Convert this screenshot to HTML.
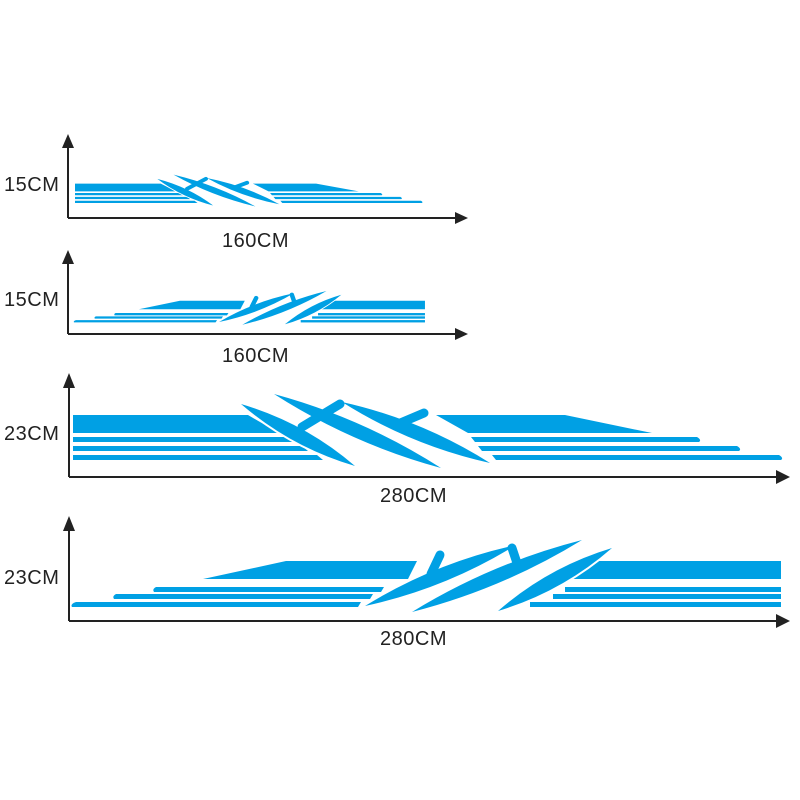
<!DOCTYPE html>
<html><head><style>body{margin:0;background:#fff}svg{display:block}</style></head><body>
<svg width="800" height="800" viewBox="0 0 800 800" xmlns="http://www.w3.org/2000/svg">
<defs>
<g id="p3" fill="#00a0e4" stroke="none">
  <polygon points="73,415 248,415 279,433 73,433"/>
  <polygon points="436,415 565,415 652,433 468,433"/>
  <polygon points="73,437 290,437 296,442 73,442"/><polygon points="73,446 302,446 308,451 73,451"/><polygon points="73,455 317,455 323,460 73,460"/>
  <path d="M471,437 H697 Q702,440 699,442 H475 Z"/><path d="M478,446 H737 Q742,449 739,451 H482 Z"/><path d="M492,455 H779 Q784,458 781,460 H496 Z"/>
  <g stroke="#fff" stroke-width="4" paint-order="stroke">
    <path d="M241,404 Q291.3,447.3 355,466 Q304.7,422.7 241,404 Z"/>
    <path d="M274,394 Q351.8,443.8 441,468 Q363.2,418.2 274,394 Z"/>
    <path d="M342,402 Q410.7,445.4 490,463 Q421.3,419.6 342,402 Z"/>
  </g>
  <g stroke="#00a0e4" stroke-width="9" stroke-linecap="round" fill="none">
    <path d="M302,427 L340,404"/>
    <path d="M398,424 L424,413"/>
  </g>
</g>
<g id="p4" fill="#00a0e4" stroke="none">
  <polygon points="577,561 781,561 781,579 565,579"/>
  <polygon points="286,561 417,561 408,579 203,579"/>
  <path d="M156,587 H384 L381,592 H154 Q152,589 156,587 Z"/><path d="M116,594 H373 L370,599 H114 Q112,596 116,594 Z"/><path d="M76,602 H361 L358,607 H72 Q70,604 76,602 Z"/>
  <rect x="565" y="587" width="216" height="5"/><rect x="553" y="594" width="228" height="5"/><rect x="530" y="602" width="251" height="5"/>
  <g stroke="#fff" stroke-width="4" paint-order="stroke">
    <path d="M365,606 Q445.7,588.5 516,545 Q435.3,562.5 365,606 Z"/>
    <path d="M412,612 Q502.4,588.9 582,540 Q491.6,563.1 412,612 Z"/>
    <path d="M498,611 Q561.8,591.8 612,548 Q548.2,567.2 498,611 Z"/>
  </g>
  <g stroke="#00a0e4" stroke-width="9" stroke-linecap="round" fill="none">
    <path d="M431,574 L440,555"/>
    <path d="M518,566 L512,548"/>
  </g>
</g>
</defs>
<g font-family="Liberation Sans, sans-serif" font-size="20" fill="#222" letter-spacing="0.5">
<g stroke="#222" stroke-width="2"><line x1="68" y1="145" x2="68" y2="218"/><line x1="68" y1="218" x2="458" y2="218"/></g>
<polygon points="62,148 74,148 68,134"/><polygon points="455,212 455,224 468,218"/>
<use href="#p3" transform="translate(75,175) scale(0.49,0.43) translate(-73,-395)"/>
<text x="4" y="191">15CM</text><text x="222" y="247">160CM</text>
<g stroke="#222" stroke-width="2"><line x1="68" y1="260" x2="68" y2="334"/><line x1="68" y1="334" x2="458" y2="334"/></g>
<polygon points="62,264 74,264 68,250"/><polygon points="455,328 455,340 468,334"/>
<use href="#p4" transform="translate(75,290) scale(0.495,0.47) translate(-74,-538)"/>
<text x="4" y="306">15CM</text><text x="222" y="362">160CM</text>
<g stroke="#222" stroke-width="2"><line x1="69" y1="385" x2="69" y2="477"/><line x1="69" y1="477" x2="778" y2="477"/></g>
<polygon points="63,388 75,388 69,373"/><polygon points="776,470 776,484 790,477"/>
<use href="#p3"/>
<text x="4" y="440">23CM</text><text x="380" y="502">280CM</text>
<g stroke="#222" stroke-width="2"><line x1="69" y1="528" x2="69" y2="621"/><line x1="69" y1="621" x2="778" y2="621"/></g>
<polygon points="63,531 75,531 69,516"/><polygon points="776,614 776,628 790,621"/>
<use href="#p4"/>
<text x="4" y="584">23CM</text><text x="380" y="645">280CM</text>
</g>
</svg>
</body></html>
